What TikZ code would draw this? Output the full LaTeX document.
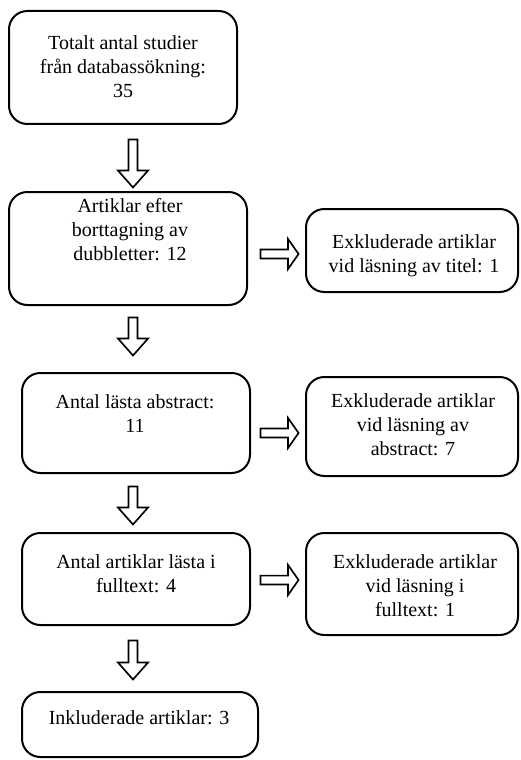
\documentclass[tikz,border=0pt]{standalone}
\usepackage{fontspec}
\setmainfont{Liberation Serif}
\usetikzlibrary{shapes.arrows, positioning}
\tikzset{
	stepnode/.style={
			draw=black,
			line width=1.2pt,
			rounded corners=11pt,
			fill=white,
			inner sep=0pt
		},
	textnode/.style={
			align=center,
			inner sep=0pt,
			font=\fontsize{12pt}{14.4pt}\selectfont
		},
	blockarrow/.style={
			single arrow,
			draw=black,
			line width=1pt,
			fill=white,
			minimum width=18pt,
			single arrow head extend=5.5pt,
			inner xsep=0pt,
			inner ysep=1.8pt
		},
	downarrow/.style={
			blockarrow,
			rotate=-90,
			single arrow tip angle=83
		},
	rightarrow/.style={
			blockarrow,
			single arrow tip angle=110
		}
}
\begin{document}
\begin{tikzpicture}[x=0.6pt, y=-0.6pt]
\useasboundingbox (0,0) rectangle (520,760);
\node[stepnode, minimum width=136.8pt, minimum height=67.8pt] (s1) at (123,67.5) {};
\node[stepnode, minimum width=142.8pt, minimum height=67.8pt] (s2) at (128,248.5) {};
\node[stepnode, minimum width=136.8pt, minimum height=60pt] (s3) at (136,423) {};
\node[stepnode, minimum width=136.8pt, minimum height=55.2pt] (s4) at (136,579) {};
\node[stepnode, minimum width=141.6pt, minimum height=39pt] (s5) at (140,724.5) {};

\node[stepnode, minimum width=127.2pt, minimum height=49.8pt] (x1) at (412,250.5) {};
\node[stepnode, minimum width=127.2pt, minimum height=59.4pt] (x2) at (412,426.5) {};
\node[stepnode, minimum width=127.2pt, minimum height=61.2pt] (x3) at (412,584) {};

\node[textnode] (t1) at (123,67) {Totalt antal studier\\från databassökning:\\35};
\node[textnode] (t2) at (130,229.5) {Artiklar efter\\borttagning av\\dubbletter: 12};
\node[textnode] (t3) at (135,414) {Antal lästa abstract:\\11};
\node[textnode] (t4) at (136,574) {Antal artiklar lästa i\\fulltext: 4};
\node[textnode] (t5) at (139,718) {Inkluderade artiklar: 3};

\node[textnode] (u1) at (414,256) {Exkluderade artiklar\\vid läsning av titel: 1};
\node[textnode] (u2) at (413,425) {Exkluderade artiklar\\vid läsning av\\abstract: 7};
\node[textnode] (u3) at (415,586) {Exkluderade artiklar\\vid läsning i\\fulltext: 1};

\node[downarrow, minimum height=28.8pt] (a1) at (133,161) {};
\node[downarrow, minimum height=22.8pt] (a2) at (133,334) {};
\node[downarrow, minimum height=22.8pt] (a3) at (133,503) {};
\node[downarrow, minimum height=23.4pt] (a4) at (133,657.5) {};

\node[rightarrow, minimum height=22.8pt] (r1) at (278,254) {};
\node[rightarrow, minimum height=22.8pt] (r2) at (278,433) {};
\node[rightarrow, minimum height=22.8pt] (r3) at (278,580) {};

\end{tikzpicture}
\end{document}
